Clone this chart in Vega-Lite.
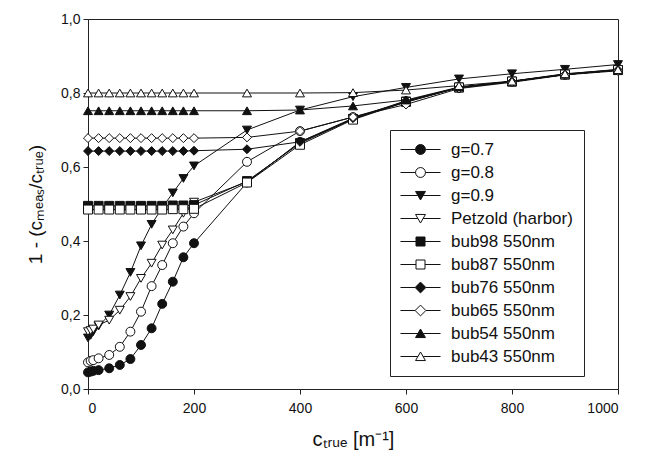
{
  "$schema": "https://vega.github.io/schema/vega-lite/v6.json",
  "autosize": {"type": "none"},
  "padding": {"left": 88, "top": 19, "right": 28, "bottom": 72},
  "width": 530,
  "height": 370,
  "background": "white",
  "config": {
    "font": "Liberation Sans",
    "view": {"stroke": "#222", "strokeWidth": 1},
    "axis": {"domainColor": "#222", "tickColor": "#222", "labelColor": "#111", "titleColor": "#111", "grid": false, "labelFont": "Liberation Sans", "titleFont": "Liberation Sans", "titleFontWeight": "normal"},
    "legend": {"title": null, "orient": "none", "legendX": 302, "legendY": 111, "padding": 11, "symbolOffset": 11, "labelOffset": 22, "labelFontSize": 17, "labelFont": "Liberation Sans", "labelColor": "#111", "rowPadding": 5, "symbolSize": 81, "symbolStrokeWidth": 1, "symbolStrokeColor": "#111", "strokeColor": "#222", "fillColor": "white", "cornerRadius": 0}
  },
  "data": {"values": [
    {"series": "g=0.7", "x": 0, "y": 0.045}, {"series": "g=0.7", "x": 5, "y": 0.047}, {"series": "g=0.7", "x": 10, "y": 0.049}, {"series": "g=0.7", "x": 20, "y": 0.051}, {"series": "g=0.7", "x": 40, "y": 0.056}, {"series": "g=0.7", "x": 60, "y": 0.065}, {"series": "g=0.7", "x": 80, "y": 0.081}, {"series": "g=0.7", "x": 100, "y": 0.119}, {"series": "g=0.7", "x": 120, "y": 0.164}, {"series": "g=0.7", "x": 140, "y": 0.23}, {"series": "g=0.7", "x": 160, "y": 0.29}, {"series": "g=0.7", "x": 180, "y": 0.356}, {"series": "g=0.7", "x": 200, "y": 0.394}, {"series": "g=0.7", "x": 300, "y": 0.558}, {"series": "g=0.7", "x": 400, "y": 0.668}, {"series": "g=0.7", "x": 500, "y": 0.73}, {"series": "g=0.7", "x": 600, "y": 0.778}, {"series": "g=0.7", "x": 700, "y": 0.815}, {"series": "g=0.7", "x": 800, "y": 0.831}, {"series": "g=0.7", "x": 900, "y": 0.85}, {"series": "g=0.7", "x": 1000, "y": 0.862},
    {"series": "g=0.8", "x": 0, "y": 0.072}, {"series": "g=0.8", "x": 5, "y": 0.076}, {"series": "g=0.8", "x": 10, "y": 0.078}, {"series": "g=0.8", "x": 20, "y": 0.083}, {"series": "g=0.8", "x": 40, "y": 0.092}, {"series": "g=0.8", "x": 60, "y": 0.114}, {"series": "g=0.8", "x": 80, "y": 0.155}, {"series": "g=0.8", "x": 100, "y": 0.209}, {"series": "g=0.8", "x": 120, "y": 0.278}, {"series": "g=0.8", "x": 140, "y": 0.335}, {"series": "g=0.8", "x": 160, "y": 0.394}, {"series": "g=0.8", "x": 180, "y": 0.439}, {"series": "g=0.8", "x": 200, "y": 0.475}, {"series": "g=0.8", "x": 300, "y": 0.614}, {"series": "g=0.8", "x": 400, "y": 0.697}, {"series": "g=0.8", "x": 500, "y": 0.735}, {"series": "g=0.8", "x": 600, "y": 0.775}, {"series": "g=0.8", "x": 700, "y": 0.815}, {"series": "g=0.8", "x": 800, "y": 0.831}, {"series": "g=0.8", "x": 900, "y": 0.85}, {"series": "g=0.8", "x": 1000, "y": 0.862},
    {"series": "g=0.9", "x": 0, "y": 0.138}, {"series": "g=0.9", "x": 5, "y": 0.145}, {"series": "g=0.9", "x": 10, "y": 0.155}, {"series": "g=0.9", "x": 20, "y": 0.17}, {"series": "g=0.9", "x": 40, "y": 0.2}, {"series": "g=0.9", "x": 60, "y": 0.254}, {"series": "g=0.9", "x": 80, "y": 0.315}, {"series": "g=0.9", "x": 100, "y": 0.387}, {"series": "g=0.9", "x": 120, "y": 0.445}, {"series": "g=0.9", "x": 140, "y": 0.49}, {"series": "g=0.9", "x": 160, "y": 0.53}, {"series": "g=0.9", "x": 180, "y": 0.569}, {"series": "g=0.9", "x": 200, "y": 0.603}, {"series": "g=0.9", "x": 300, "y": 0.7}, {"series": "g=0.9", "x": 400, "y": 0.754}, {"series": "g=0.9", "x": 500, "y": 0.79}, {"series": "g=0.9", "x": 600, "y": 0.815}, {"series": "g=0.9", "x": 700, "y": 0.838}, {"series": "g=0.9", "x": 800, "y": 0.852}, {"series": "g=0.9", "x": 900, "y": 0.864}, {"series": "g=0.9", "x": 1000, "y": 0.877},
    {"series": "Petzold (harbor)", "x": 0, "y": 0.155}, {"series": "Petzold (harbor)", "x": 5, "y": 0.158}, {"series": "Petzold (harbor)", "x": 10, "y": 0.162}, {"series": "Petzold (harbor)", "x": 20, "y": 0.173}, {"series": "Petzold (harbor)", "x": 40, "y": 0.186}, {"series": "Petzold (harbor)", "x": 60, "y": 0.213}, {"series": "Petzold (harbor)", "x": 80, "y": 0.25}, {"series": "Petzold (harbor)", "x": 100, "y": 0.299}, {"series": "Petzold (harbor)", "x": 120, "y": 0.34}, {"series": "Petzold (harbor)", "x": 140, "y": 0.389}, {"series": "Petzold (harbor)", "x": 160, "y": 0.43}, {"series": "Petzold (harbor)", "x": 180, "y": 0.475}, {"series": "Petzold (harbor)", "x": 200, "y": 0.505}, {"series": "Petzold (harbor)", "x": 300, "y": 0.56}, {"series": "Petzold (harbor)", "x": 400, "y": 0.666}, {"series": "Petzold (harbor)", "x": 500, "y": 0.73}, {"series": "Petzold (harbor)", "x": 600, "y": 0.777}, {"series": "Petzold (harbor)", "x": 700, "y": 0.815}, {"series": "Petzold (harbor)", "x": 800, "y": 0.831}, {"series": "Petzold (harbor)", "x": 900, "y": 0.85}, {"series": "Petzold (harbor)", "x": 1000, "y": 0.862},
    {"series": "bub98 550nm", "x": 0, "y": 0.495}, {"series": "bub98 550nm", "x": 20, "y": 0.495}, {"series": "bub98 550nm", "x": 40, "y": 0.495}, {"series": "bub98 550nm", "x": 60, "y": 0.495}, {"series": "bub98 550nm", "x": 80, "y": 0.495}, {"series": "bub98 550nm", "x": 100, "y": 0.495}, {"series": "bub98 550nm", "x": 120, "y": 0.495}, {"series": "bub98 550nm", "x": 140, "y": 0.495}, {"series": "bub98 550nm", "x": 160, "y": 0.496}, {"series": "bub98 550nm", "x": 180, "y": 0.496}, {"series": "bub98 550nm", "x": 200, "y": 0.497}, {"series": "bub98 550nm", "x": 300, "y": 0.562}, {"series": "bub98 550nm", "x": 400, "y": 0.664}, {"series": "bub98 550nm", "x": 500, "y": 0.73}, {"series": "bub98 550nm", "x": 600, "y": 0.777}, {"series": "bub98 550nm", "x": 700, "y": 0.815}, {"series": "bub98 550nm", "x": 800, "y": 0.831}, {"series": "bub98 550nm", "x": 900, "y": 0.85}, {"series": "bub98 550nm", "x": 1000, "y": 0.862},
    {"series": "bub87 550nm", "x": 0, "y": 0.485}, {"series": "bub87 550nm", "x": 20, "y": 0.485}, {"series": "bub87 550nm", "x": 40, "y": 0.485}, {"series": "bub87 550nm", "x": 60, "y": 0.485}, {"series": "bub87 550nm", "x": 80, "y": 0.485}, {"series": "bub87 550nm", "x": 100, "y": 0.485}, {"series": "bub87 550nm", "x": 120, "y": 0.485}, {"series": "bub87 550nm", "x": 140, "y": 0.485}, {"series": "bub87 550nm", "x": 160, "y": 0.486}, {"series": "bub87 550nm", "x": 180, "y": 0.486}, {"series": "bub87 550nm", "x": 200, "y": 0.487}, {"series": "bub87 550nm", "x": 300, "y": 0.558}, {"series": "bub87 550nm", "x": 400, "y": 0.66}, {"series": "bub87 550nm", "x": 500, "y": 0.728}, {"series": "bub87 550nm", "x": 600, "y": 0.776}, {"series": "bub87 550nm", "x": 700, "y": 0.815}, {"series": "bub87 550nm", "x": 800, "y": 0.831}, {"series": "bub87 550nm", "x": 900, "y": 0.85}, {"series": "bub87 550nm", "x": 1000, "y": 0.862},
    {"series": "bub76 550nm", "x": 0, "y": 0.643}, {"series": "bub76 550nm", "x": 20, "y": 0.643}, {"series": "bub76 550nm", "x": 40, "y": 0.643}, {"series": "bub76 550nm", "x": 60, "y": 0.643}, {"series": "bub76 550nm", "x": 80, "y": 0.643}, {"series": "bub76 550nm", "x": 100, "y": 0.643}, {"series": "bub76 550nm", "x": 120, "y": 0.643}, {"series": "bub76 550nm", "x": 140, "y": 0.643}, {"series": "bub76 550nm", "x": 160, "y": 0.643}, {"series": "bub76 550nm", "x": 180, "y": 0.643}, {"series": "bub76 550nm", "x": 200, "y": 0.644}, {"series": "bub76 550nm", "x": 300, "y": 0.648}, {"series": "bub76 550nm", "x": 400, "y": 0.668}, {"series": "bub76 550nm", "x": 500, "y": 0.732}, {"series": "bub76 550nm", "x": 600, "y": 0.779}, {"series": "bub76 550nm", "x": 700, "y": 0.815}, {"series": "bub76 550nm", "x": 800, "y": 0.831}, {"series": "bub76 550nm", "x": 900, "y": 0.85}, {"series": "bub76 550nm", "x": 1000, "y": 0.862},
    {"series": "bub65 550nm", "x": 0, "y": 0.678}, {"series": "bub65 550nm", "x": 20, "y": 0.678}, {"series": "bub65 550nm", "x": 40, "y": 0.678}, {"series": "bub65 550nm", "x": 60, "y": 0.678}, {"series": "bub65 550nm", "x": 80, "y": 0.678}, {"series": "bub65 550nm", "x": 100, "y": 0.678}, {"series": "bub65 550nm", "x": 120, "y": 0.678}, {"series": "bub65 550nm", "x": 140, "y": 0.678}, {"series": "bub65 550nm", "x": 160, "y": 0.678}, {"series": "bub65 550nm", "x": 180, "y": 0.678}, {"series": "bub65 550nm", "x": 200, "y": 0.678}, {"series": "bub65 550nm", "x": 300, "y": 0.68}, {"series": "bub65 550nm", "x": 400, "y": 0.697}, {"series": "bub65 550nm", "x": 500, "y": 0.735}, {"series": "bub65 550nm", "x": 600, "y": 0.769}, {"series": "bub65 550nm", "x": 700, "y": 0.812}, {"series": "bub65 550nm", "x": 800, "y": 0.829}, {"series": "bub65 550nm", "x": 900, "y": 0.849}, {"series": "bub65 550nm", "x": 1000, "y": 0.86},
    {"series": "bub54 550nm", "x": 0, "y": 0.752}, {"series": "bub54 550nm", "x": 20, "y": 0.752}, {"series": "bub54 550nm", "x": 40, "y": 0.752}, {"series": "bub54 550nm", "x": 60, "y": 0.752}, {"series": "bub54 550nm", "x": 80, "y": 0.752}, {"series": "bub54 550nm", "x": 100, "y": 0.752}, {"series": "bub54 550nm", "x": 120, "y": 0.752}, {"series": "bub54 550nm", "x": 140, "y": 0.752}, {"series": "bub54 550nm", "x": 160, "y": 0.752}, {"series": "bub54 550nm", "x": 180, "y": 0.752}, {"series": "bub54 550nm", "x": 200, "y": 0.752}, {"series": "bub54 550nm", "x": 300, "y": 0.752}, {"series": "bub54 550nm", "x": 400, "y": 0.754}, {"series": "bub54 550nm", "x": 500, "y": 0.765}, {"series": "bub54 550nm", "x": 600, "y": 0.781}, {"series": "bub54 550nm", "x": 700, "y": 0.816}, {"series": "bub54 550nm", "x": 800, "y": 0.832}, {"series": "bub54 550nm", "x": 900, "y": 0.851}, {"series": "bub54 550nm", "x": 1000, "y": 0.864},
    {"series": "bub43 550nm", "x": 0, "y": 0.8}, {"series": "bub43 550nm", "x": 20, "y": 0.8}, {"series": "bub43 550nm", "x": 40, "y": 0.8}, {"series": "bub43 550nm", "x": 60, "y": 0.8}, {"series": "bub43 550nm", "x": 80, "y": 0.8}, {"series": "bub43 550nm", "x": 100, "y": 0.8}, {"series": "bub43 550nm", "x": 120, "y": 0.8}, {"series": "bub43 550nm", "x": 140, "y": 0.8}, {"series": "bub43 550nm", "x": 160, "y": 0.8}, {"series": "bub43 550nm", "x": 180, "y": 0.8}, {"series": "bub43 550nm", "x": 200, "y": 0.8}, {"series": "bub43 550nm", "x": 300, "y": 0.8}, {"series": "bub43 550nm", "x": 400, "y": 0.8}, {"series": "bub43 550nm", "x": 500, "y": 0.801}, {"series": "bub43 550nm", "x": 600, "y": 0.808}, {"series": "bub43 550nm", "x": 700, "y": 0.82}, {"series": "bub43 550nm", "x": 800, "y": 0.832}, {"series": "bub43 550nm", "x": 900, "y": 0.852}, {"series": "bub43 550nm", "x": 1000, "y": 0.863}
  ]},
  "encoding": {
    "x": {"field": "x", "type": "quantitative", "scale": {"domain": [0, 1000], "nice": false},
      "axis": {"values": [0, 200, 400, 600, 800, 1000], "format": "d", "tickSize": 5, "labelPadding": 7, "labelFontSize": 14, "title": "cₜᵣᵤₑ [m⁻¹]", "titleFontSize": 20, "titleX": 265, "titleY": 56, "titleBaseline": "alphabetic", "titleAnchor": "middle"}},
    "y": {"field": "y", "type": "quantitative", "scale": {"domain": [0, 1], "nice": false},
      "axis": {"values": [0, 0.2, 0.4, 0.6, 0.8, 1.0], "tickSize": 5, "labelPadding": 3, "labelFontSize": 14, "labelExpr": "replace(format(datum.value, '.1f'), '.', ',')", "title": "1 - (cₘₑₐₛ/cₜᵣᵤₑ)", "titleFontSize": 19, "titleX": -53, "titleY": 185, "titleBaseline": "middle", "titleAnchor": "middle"}}
  },
  "layer": [
    {
      "mark": {"type": "line", "strokeWidth": 1},
      "encoding": {
        "color": {"field": "series", "type": "nominal",
          "scale": {"domain": ["g=0.7", "g=0.8", "g=0.9", "Petzold (harbor)", "bub98 550nm", "bub87 550nm", "bub76 550nm", "bub65 550nm", "bub54 550nm", "bub43 550nm"],
            "range": ["#111", "#111", "#111", "#111", "#111", "#111", "#111", "#111", "#111", "#111"]},
          "legend": {
            "encode": {"symbols": {"update": {
              "shape": {"signal": "(datum.value === 'g=0.7' || datum.value === 'g=0.8') ? 'M-4.45,0H-1.1M1.1,0H4.45M-1.1,0A1.1,1.1 0 1,1 1.1,0A1.1,1.1 0 1,1 -1.1,0Z' : (datum.value === 'g=0.9' || datum.value === 'Petzold (harbor)') ? 'M-4.45,0H-0.58M0.58,0H4.45M-1.1,-0.9L1.1,-0.9L0,1Z' : (datum.value === 'bub98 550nm' || datum.value === 'bub87 550nm') ? 'M-4.45,0H-1M1,0H4.45M-1,-1H1V1H-1Z' : (datum.value === 'bub76 550nm' || datum.value === 'bub65 550nm') ? 'M-4.45,0H-1.2M1.2,0H4.45M-1.2,0L0,-1.2L1.2,0L0,1.2Z' : 'M-4.45,0H-0.58M0.58,0H4.45M-1.1,0.9L1.1,0.9L0,-1Z'"},
              "fill": {"signal": "indexof(['g=0.7', 'g=0.9', 'bub98 550nm', 'bub76 550nm', 'bub54 550nm'], datum.value) >= 0 ? '#111' : 'white'"},
              "strokeWidth": {"value": 1},
              "opacity": {"value": 1}
            }}}}},
        "detail": {"field": "series"}
      }
    },
    {
      "mark": {"type": "point", "size": 80, "stroke": "#111", "strokeWidth": 1, "opacity": 1},
      "encoding": {
        "shape": {"field": "series", "type": "nominal",
          "scale": {"domain": ["bub43 550nm", "bub54 550nm", "bub65 550nm", "bub76 550nm", "bub87 550nm", "bub98 550nm", "Petzold (harbor)", "g=0.9", "g=0.8", "g=0.7"],
            "range": ["triangle-up", "triangle-up", "diamond", "diamond", "square", "square", "triangle-down", "triangle-down", "circle", "circle"]},
          "legend": null},
        "fill": {"field": "series", "type": "nominal",
          "scale": {"domain": ["bub43 550nm", "bub54 550nm", "bub65 550nm", "bub76 550nm", "bub87 550nm", "bub98 550nm", "Petzold (harbor)", "g=0.9", "g=0.8", "g=0.7"],
            "range": ["white", "#111", "white", "#111", "white", "#111", "white", "#111", "white", "#111"]},
          "legend": null}
      }
    }
  ]
}
